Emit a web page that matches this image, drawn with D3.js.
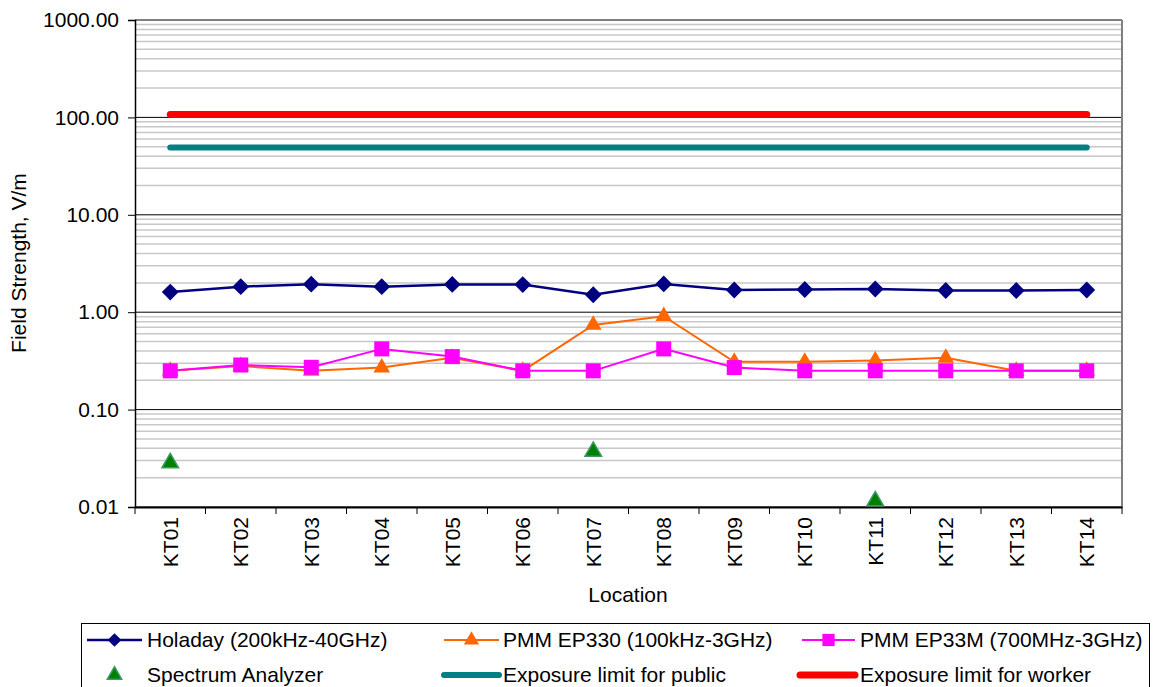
<!DOCTYPE html>
<html><head><meta charset="utf-8">
<script src="https://cdn.jsdelivr.net/npm/d3@7/dist/d3.min.js"></script>
<style>body{margin:0;background:#fff}svg{font-family:"Liberation Sans",Arial,sans-serif}</style>
</head><body>
<svg id="c" width="1156" height="687"></svg>
<script>
const categories = ["KT01","KT02","KT03","KT04","KT05","KT06","KT07","KT08","KT09","KT10","KT11","KT12","KT13","KT14"];
const holaday = [1.61,1.83,1.94,1.83,1.93,1.92,1.51,1.95,1.69,1.71,1.73,1.67,1.67,1.69];
const ep330   = [0.25,0.28,0.25,0.27,0.34,0.25,0.74,0.91,0.31,0.31,0.32,0.34,0.25,0.25];
const ep33m   = [0.25,0.287,0.272,0.42,0.35,0.25,0.25,0.42,0.27,0.25,0.25,0.25,0.25,0.25];
const spectrum = [0.029,null,null,null,null,null,0.038,null,null,null,0.0118,null,null,null];
const publicLimit = 49;
const workerLimit = 107;
const yTickValues = [0.01,0.1,1,10,100,1000];

const FS = 21;
const svg = d3.select("#c");
const L=135, R=1122, T=20, B=507;
const x = d3.scaleBand().domain(categories).range([L,R]);
const y = d3.scaleLog().domain([0.01,1000]).range([B,T]);
const cx = d => x(d)+x.bandwidth()/2;

// minor gridlines
const minors=[];
for(let e=-2;e<3;e++){for(let m=2;m<10;m++){minors.push(m*Math.pow(10,e));}}
svg.append("g").selectAll("line").data(minors).join("line")
  .attr("x1",L).attr("x2",R).attr("y1",d=>y(d)).attr("y2",d=>y(d))
  .attr("stroke","#c8c8c8").attr("stroke-width",1.5);
// major gridlines
svg.append("g").selectAll("line").data(yTickValues).join("line")
  .attr("x1",L).attr("x2",R).attr("y1",d=>y(d)).attr("y2",d=>y(d))
  .attr("stroke","#000").attr("stroke-width",1);
// right border
svg.append("line").attr("x1",R).attr("x2",R).attr("y1",T).attr("y2",B).attr("stroke","#808080").attr("stroke-width",2);

// y axis
const yAxis = d3.axisLeft(y).tickValues(yTickValues).tickFormat(d3.format(".2f")).tickSize(7).tickPadding(9);
const ga = svg.append("g").attr("transform",`translate(${L},0)`).call(yAxis);
ga.select(".domain").attr("stroke","#000").attr("stroke-width",1.5);
ga.selectAll("text").attr("font-size",FS).attr("fill","#000").attr("font-family","Liberation Sans, Arial, sans-serif");

// x axis
const xAxis = d3.axisBottom(x).tickSize(0).tickPadding(0);
const gx = svg.append("g").attr("transform",`translate(0,${B})`).call(xAxis);
gx.select(".domain").attr("stroke","#000").attr("stroke-width",2);
gx.selectAll("text").attr("font-size",FS).attr("fill","#000").attr("font-family","Liberation Sans, Arial, sans-serif")
  .attr("transform","rotate(-90)").attr("text-anchor","end").attr("dy","0.35em").attr("x",-10).attr("y",0);
// boundary ticks
const bounds = categories.map(c=>x(c)).concat([R]);
svg.append("g").selectAll("line").data(bounds).join("line")
  .attr("x1",d=>d).attr("x2",d=>d).attr("y1",B).attr("y2",B+7).attr("stroke","#000").attr("stroke-width",1);

// titles
svg.append("text").attr("transform","translate(19,263) rotate(-90)").attr("text-anchor","middle").attr("dy","0.35em")
  .attr("font-size",FS).text("Field Strength, V/m");
svg.append("text").attr("x",628).attr("y",602).attr("text-anchor","middle").attr("font-size",FS).text("Location");

// limit lines
svg.append("line").attr("x1",cx(categories[0])).attr("x2",cx(categories[categories.length-1]))
  .attr("y1",y(publicLimit)).attr("y2",y(publicLimit)).attr("stroke","#008080").attr("stroke-width",6).attr("stroke-linecap","round");
svg.append("line").attr("x1",cx(categories[0])).attr("x2",cx(categories[categories.length-1]))
  .attr("y1",y(workerLimit)).attr("y2",y(workerLimit)).attr("stroke","#ff0000").attr("stroke-width",7).attr("stroke-linecap","round");

const line = d3.line().x((d,i)=>cx(categories[i])).y(d=>y(d));
function marker(g,type,color,size,stroke){
  const sym = {diamond:d3.symbolDiamond2, triangle:d3.symbolTriangle, square:d3.symbolSquare}[type];
  return g.append("path").attr("d",d3.symbol().type(sym).size(size)()).attr("fill",color).attr("stroke",stroke||"none");
}
function series(vals,color,w,type,size){
  svg.append("path").datum(vals).attr("d",line).attr("fill","none").attr("stroke",color).attr("stroke-width",w);
  const g=svg.append("g");
  vals.forEach((v,i)=>{
    const m=g.append("g").attr("transform",`translate(${cx(categories[i])},${y(v)})`);
    marker(m,type,color,size);
  });
}
series(holaday,"#000080",2.5,"diamond",180);
series(ep330,"#ff6600",2,"triangle",120);
series(ep33m,"#ff00ff",2,"square",225);
// spectrum analyzer
spectrum.forEach((v,i)=>{
  if(v==null) return;
  const m=svg.append("g").attr("transform",`translate(${cx(categories[i])},${y(v)+1})`);
  marker(m,"triangle","#008000",120,"#3c9a64").attr("stroke-width",1.5);
});

// legend
const lg = svg.append("g");
lg.append("rect").attr("x",81.5).attr("y",623.5).attr("width",1068).attr("height",80).attr("fill","#fff").attr("stroke","#000").attr("stroke-width",1);
const items=[
  {t:"Holaday (200kHz-40GHz)",c:"#000080",w:2.5,m:"diamond",s:120,x1:87,x2:142,tx:147,row:0},
  {t:"PMM EP330 (100kHz-3GHz)",c:"#ff6600",w:2,m:"triangle",s:100,x1:444,x2:499,tx:503,row:0},
  {t:"PMM EP33M (700MHz-3GHz)",c:"#ff00ff",w:2,m:"square",s:150,x1:802,x2:855,tx:860,row:0},
  {t:"Spectrum Analyzer",c:"#008000",w:0,m:"triangle",s:90,x1:87,x2:142,tx:147,row:1,st:"#3c9a64"},
  {t:"Exposure limit for public",c:"#008080",w:6,m:null,x1:444,x2:499,tx:503,row:1},
  {t:"Exposure limit for worker",c:"#ff0000",w:7,m:null,x1:800,x2:855,tx:860,row:1}
];
items.forEach(it=>{
  const yy = it.row===0?640:675;
  if(it.w>0) lg.append("line").attr("x1",it.x1).attr("x2",it.x2).attr("y1",yy).attr("y2",yy).attr("stroke",it.c).attr("stroke-width",it.w).attr("stroke-linecap",it.m?"butt":"round");
  if(it.m){
    const m=lg.append("g").attr("transform",`translate(${(it.x1+it.x2)/2},${yy})`);
    marker(m,it.m,it.c,it.s,it.st).attr("stroke-width",1.5);
  }
  lg.append("text").attr("x",it.tx).attr("y",yy).attr("dy","0.35em").attr("font-size",FS).text(it.t);
});
</script>
</body></html>
